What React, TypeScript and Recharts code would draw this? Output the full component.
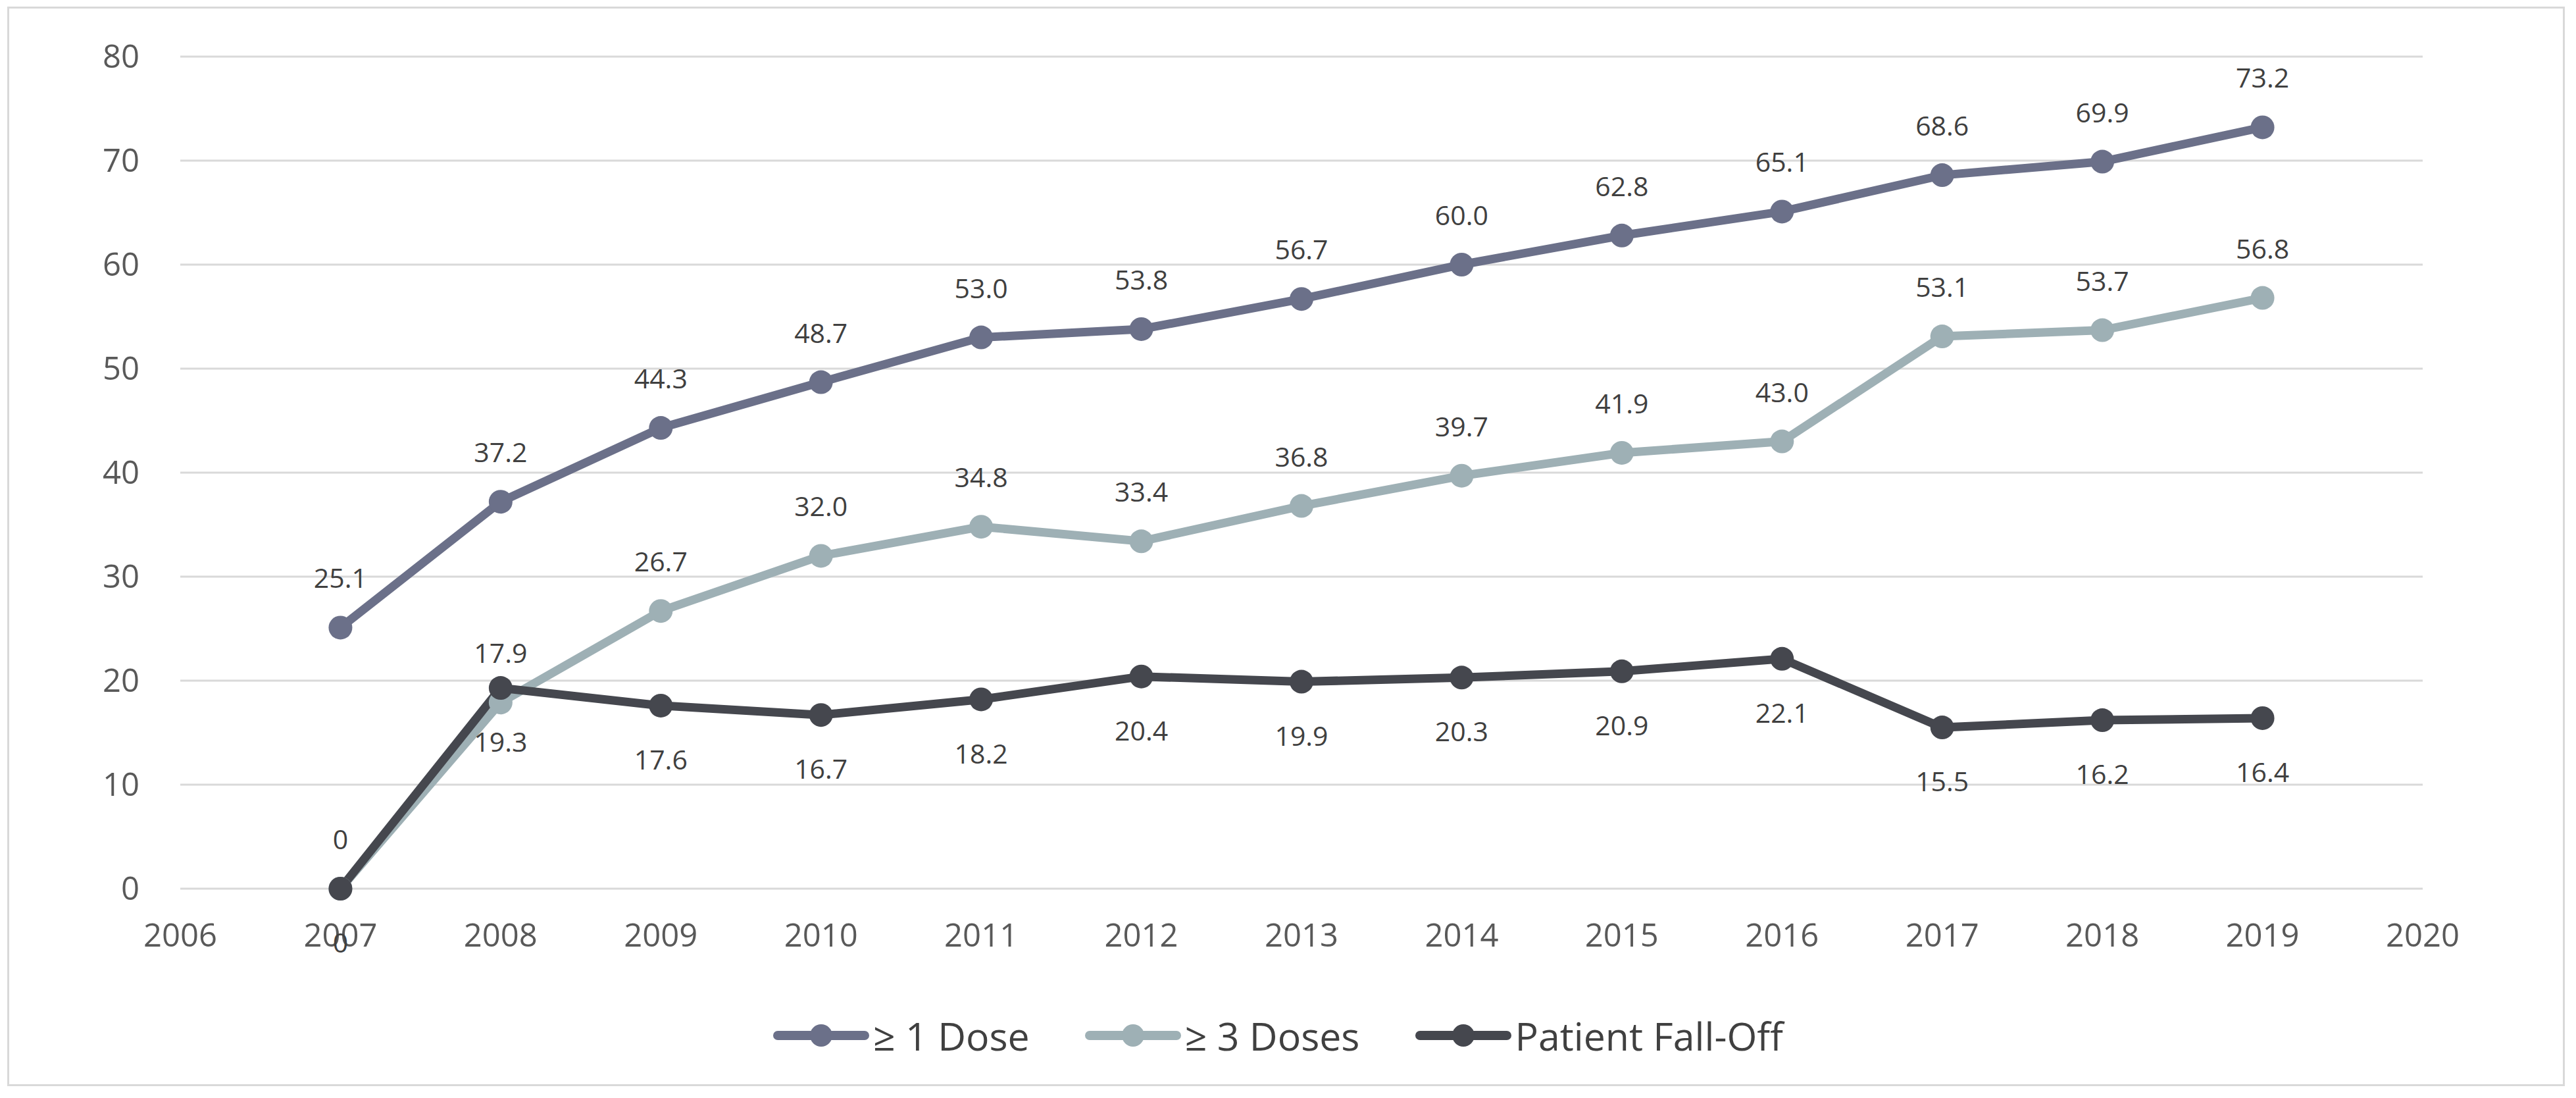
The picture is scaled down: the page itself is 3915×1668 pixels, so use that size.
import React from 'react';
import { LineChart, Line, XAxis, YAxis, CartesianGrid, Legend, LabelList } from 'recharts';

const years = [2007, 2008, 2009, 2010, 2011, 2012, 2013, 2014, 2015, 2016, 2017, 2018, 2019];
const oneDose = [25.1, 37.2, 44.3, 48.7, 53.0, 53.8, 56.7, 60.0, 62.8, 65.1, 68.6, 69.9, 73.2];
const threeDoses = [0, 17.9, 26.7, 32.0, 34.8, 33.4, 36.8, 39.7, 41.9, 43.0, 53.1, 53.7, 56.8];
const fallOff = [0, 19.3, 17.6, 16.7, 18.2, 20.4, 19.9, 20.3, 20.9, 22.1, 15.5, 16.2, 16.4];
const xTicks = [2006, 2007, 2008, 2009, 2010, 2011, 2012, 2013, 2014, 2015, 2016, 2017, 2018, 2019, 2020];
const yTicks = [0, 10, 20, 30, 40, 50, 60, 70, 80];
const seriesNames = ['≥ 1 Dose', '≥ 3 Doses', 'Patient Fall-Off'];
const seriesColors = ['#6b7089', '#9eb0b5', '#45474e'];

const data = years.map((year, i) => ({
  year,
  oneDose: oneDose[i],
  threeDoses: threeDoses[i],
  fallOff: fallOff[i],
}));

const FONT = '"Open Sans", "Noto Sans", sans-serif';

const fmt = (v: any) => (Number(v) === 0 ? '0' : Number(v).toFixed(1));

const renderLegend = (props: any) => {
  const payload = [...(props.payload || [])].sort(
    (a: any, b: any) => seriesNames.indexOf(a.value) - seriesNames.indexOf(b.value)
  );
  return (
    <div
      style={{
        display: 'flex',
        justifyContent: 'center',
        alignItems: 'center',
        height: 70,
        fontFamily: FONT,
        fontSize: 59,
        color: '#404040',
      }}
    >
      {payload.map((entry: any, i: number) => (
        <div
          key={i}
          style={{ display: 'flex', alignItems: 'center', marginRight: i < payload.length - 1 ? 84 : 0 }}
        >
          <svg width={146} height={42} style={{ display: 'block' }}>
            <line x1={7} y1={21} x2={139} y2={21} stroke={entry.color} strokeWidth={14} strokeLinecap="round" />
            <circle cx={73} cy={21} r={17} fill={entry.color} />
          </svg>
          <span style={{ marginLeft: 6, lineHeight: '70px', whiteSpace: 'nowrap' }}>{entry.value}</span>
        </div>
      ))}
    </div>
  );
};

export default function App() {
  return (
    <div
      style={{
        position: 'absolute',
        left: 0,
        top: 0,
        width: 3915,
        height: 1668,
        background: '#ffffff',
        overflow: 'hidden',
      }}
    >
      <div
        style={{
          position: 'absolute',
          left: 11,
          top: 10,
          width: 3887,
          height: 1640,
          border: '3px solid #d9d9d9',
          boxSizing: 'border-box',
        }}
      />
      <div style={{ position: 'absolute', left: 0, top: 0 }}>
        <LineChart
          width={3915}
          height={1668}
          data={data}
          margin={{ top: 86, right: 233, left: 174, bottom: 148 }}
        >
          <CartesianGrid vertical={false} stroke="#d9d9d9" strokeWidth={3} />
          <XAxis
            dataKey="year"
            type="number"
            domain={[2006, 2020]}
            ticks={xTicks}
            allowDecimals={false}
            axisLine={false}
            tickLine={false}
            tickSize={0}
            tickMargin={53}
            height={100}
            interval={0}
            tick={{ fontSize: 49, fill: '#595959', fontFamily: FONT }}
          />
          <YAxis
            domain={[0, 80]}
            ticks={yTicks}
            axisLine={false}
            tickLine={false}
            tickSize={0}
            tickMargin={62}
            width={100}
            interval={0}
            tick={{ fontSize: 49, fill: '#595959', fontFamily: FONT }}
          />
          <Legend
            verticalAlign="bottom"
            align="center"
            content={renderLegend}
            wrapperStyle={{ left: 0, width: 3885, bottom: 60, height: 70 }}
          />
          <Line
            dataKey="oneDose"
            name={seriesNames[0]}
            stroke={seriesColors[0]}
            strokeWidth={13}
            dot={{ r: 18, fill: seriesColors[0], stroke: seriesColors[0], strokeWidth: 0 }}
            activeDot={false}
            isAnimationActive={false}
          >
            <LabelList
              dataKey="oneDose"
              position="top"
              offset={60}
              formatter={fmt}
              fontSize={41}
              fill="#404040"
              fontFamily={FONT}
            />
          </Line>
          <Line
            dataKey="threeDoses"
            name={seriesNames[1]}
            stroke={seriesColors[1]}
            strokeWidth={13}
            dot={{ r: 18, fill: seriesColors[1], stroke: seriesColors[1], strokeWidth: 0 }}
            activeDot={false}
            isAnimationActive={false}
          >
            <LabelList
              dataKey="threeDoses"
              position="top"
              offset={60}
              formatter={fmt}
              fontSize={41}
              fill="#404040"
              fontFamily={FONT}
            />
          </Line>
          <Line
            dataKey="fallOff"
            name={seriesNames[2]}
            stroke={seriesColors[2]}
            strokeWidth={13}
            dot={{ r: 18, fill: seriesColors[2], stroke: seriesColors[2], strokeWidth: 0 }}
            activeDot={false}
            isAnimationActive={false}
          >
            <LabelList
              dataKey="fallOff"
              position="bottom"
              offset={68}
              formatter={fmt}
              fontSize={41}
              fill="#404040"
              fontFamily={FONT}
            />
          </Line>
        </LineChart>
      </div>
    </div>
  );
}
